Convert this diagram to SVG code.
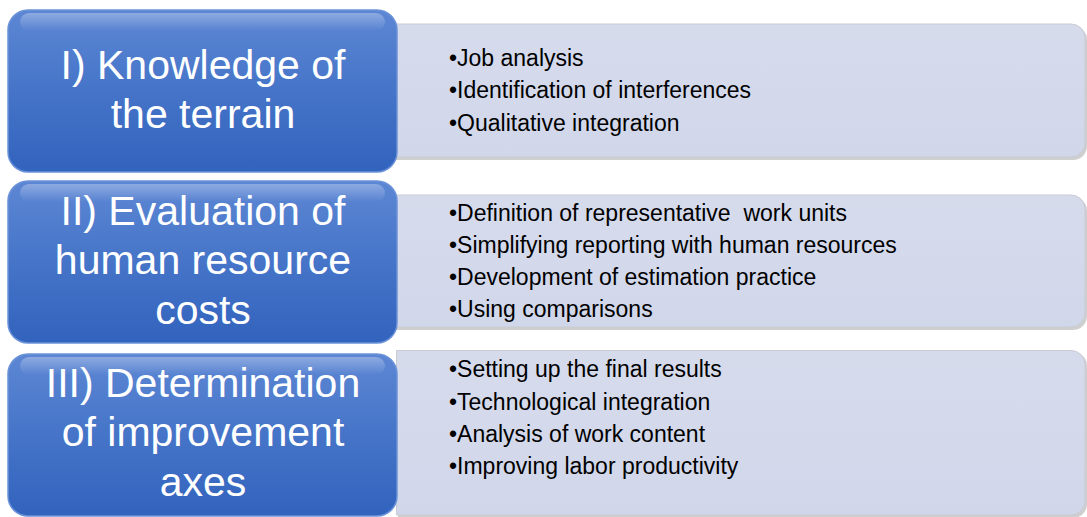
<svg xmlns="http://www.w3.org/2000/svg" width="1087" height="517" viewBox="0 0 1087 517">
<defs>
<linearGradient id="blue" x1="0" y1="0" x2="0" y2="1">
<stop offset="0" stop-color="#5d87d4"/>
<stop offset="0.5" stop-color="#4574c8"/>
<stop offset="1" stop-color="#3263bd"/>
</linearGradient>
<linearGradient id="gloss" x1="0" y1="0" x2="0" y2="1">
<stop offset="0" stop-color="#ffffff" stop-opacity="0.3"/>
<stop offset="1" stop-color="#ffffff" stop-opacity="0"/>
</linearGradient>
<linearGradient id="pale" x1="0" y1="0" x2="0" y2="1">
<stop offset="0" stop-color="#d6dbec"/>
<stop offset="1" stop-color="#d1d7ea"/>
</linearGradient>
<style>
.shadow{fill:#cfcfcf;}
.panel{fill:url(#pale);stroke:#c9cbd3;stroke-width:1;}
.blue{fill:url(#blue);stroke:#6b92d8;stroke-width:1.5;}
.gloss{fill:url(#gloss);}
.title{font-family:"Liberation Sans",Arial,sans-serif;font-size:41px;fill:#ffffff;text-anchor:middle;}
.item{font-family:"Liberation Sans",Arial,sans-serif;font-size:23px;fill:#000000;}
</style>
</defs>

<g id="panel1">
<rect class="shadow" x="382" y="26" width="705" height="134" rx="14"/>
<rect class="panel" x="380" y="24" width="705" height="133" rx="14"/>
<text class="item" x="449" y="66">•Job analysis</text>
<text class="item" x="449" y="98">•Identification of interferences</text>
<text class="item" x="449" y="131">•Qualitative integration</text>
</g>
<g id="panel2">
<rect class="shadow" x="382" y="197" width="705" height="133" rx="14"/>
<rect class="panel" x="380" y="195" width="705" height="132" rx="14"/>
<text class="item" x="449" y="221">•Definition of representative&#160; work units</text>
<text class="item" x="449" y="253">•Simplifying reporting with human resources</text>
<text class="item" x="449" y="285">•Development of estimation practice</text>
<text class="item" x="449" y="317">•Using comparisons</text>
</g>
<g id="panel3">
<path class="shadow" d="M398 352 H1073 a14 14 0 0 1 14 14 V504 a14 14 0 0 1 -14 14 H398 Z"/>
<path class="panel" d="M396.5 350.5 H1071 a14 14 0 0 1 14 14 V501 a14 14 0 0 1 -14 14 H396.5 Z"/>
<text class="item" x="449" y="377">•Setting up the final results</text>
<text class="item" x="449" y="410">•Technological integration</text>
<text class="item" x="449" y="442">•Analysis of work content</text>
<text class="item" x="449" y="474">•Improving labor productivity</text>
</g>

<g id="node1">
<rect class="blue" x="8" y="10" width="389" height="162" rx="20"/>
<rect class="gloss" x="20" y="13" width="365" height="18" rx="9"/>
<text class="title" x="203" y="79">I) Knowledge of</text>
<text class="title" x="203" y="128">the terrain</text>
</g>
<g id="node2">
<rect class="blue" x="8" y="181" width="389" height="162" rx="20"/>
<rect class="gloss" x="20" y="184" width="365" height="18" rx="9"/>
<text class="title" x="203" y="225">II) Evaluation of</text>
<text class="title" x="203" y="274">human resource</text>
<text class="title" x="203" y="324">costs</text>
</g>
<g id="node3">
<rect class="blue" x="8" y="354" width="389" height="162" rx="20"/>
<rect class="gloss" x="20" y="357" width="365" height="18" rx="9"/>
<text class="title" x="203" y="397">III) Determination</text>
<text class="title" x="203" y="446">of improvement</text>
<text class="title" x="203" y="496">axes</text>
</g>

<g id="connectors"></g>
</svg>
